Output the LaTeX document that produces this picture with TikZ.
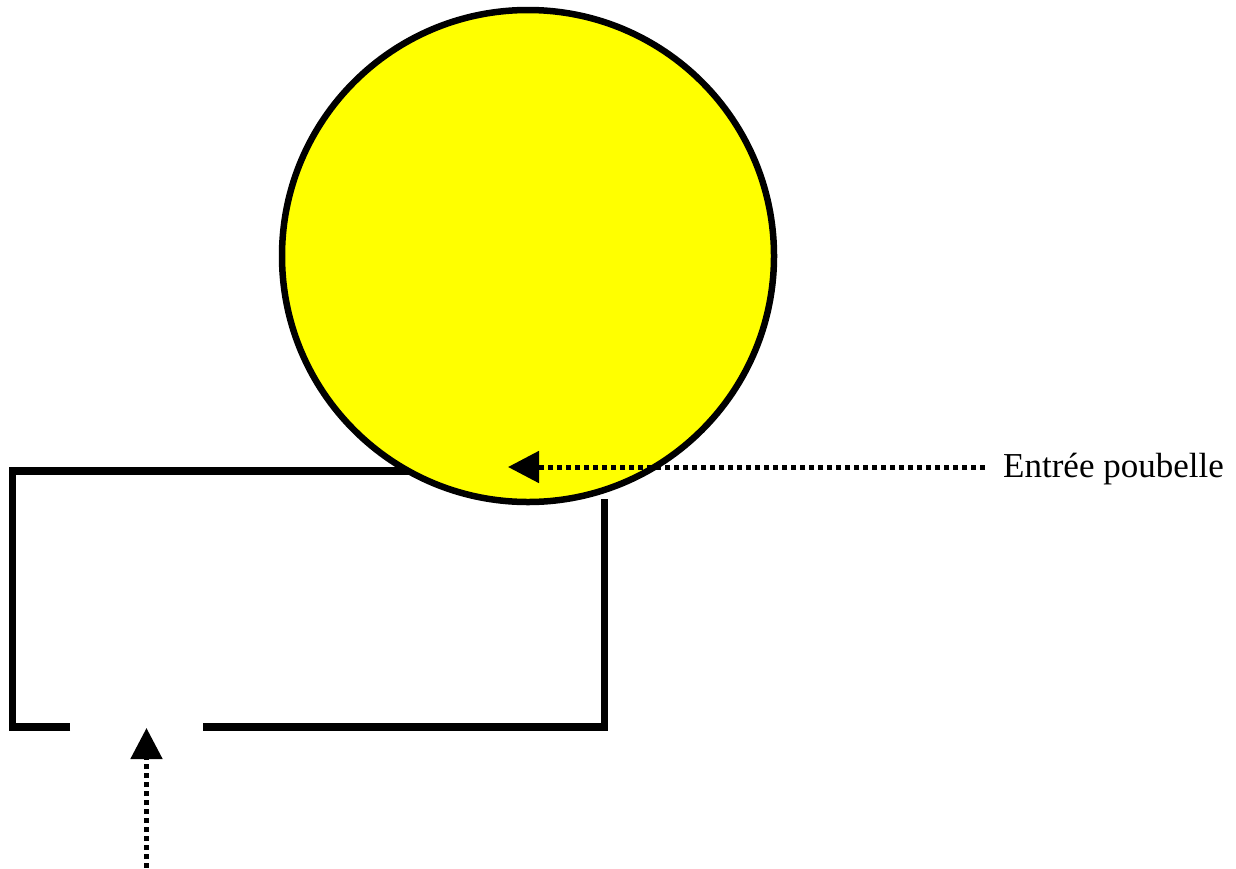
\documentclass[tikz,border=0pt]{standalone}
\usepackage{fontspec}
\setmainfont{Liberation Serif}
\usetikzlibrary{arrows.meta}
\definecolor{binyellow}{RGB}{255,255,0}
\begin{document}
\begin{tikzpicture}[x=1pt,y=-1pt,
  wall/.style={line width=7.5pt, line join=miter},
  ptr/.style={line width=5pt, dash pattern=on 5pt off 4pt, -{Triangle[length=31pt,width=31pt]}},
  lbl/.style={font=\fontsize{35}{40}\selectfont, inner sep=0pt, anchor=base west}
]
\useasboundingbox (0,0) rectangle (1236,868);
% walls of the box
\coordinate (g1) at (70,727);
\coordinate (bl) at (12.5,727);
\coordinate (tl) at (12.5,471);
\coordinate (tr) at (430,471);
\coordinate (g2) at (203,727);
\coordinate (br) at (604.5,727);
\coordinate (rt) at (604.5,499);
\draw[wall] (g1) -- (bl) -- (tl) -- (tr);
\draw[wall] (g2) -- (br) -- (rt);
% bin
\node[circle, draw, fill=binyellow, line width=6.5pt, inner sep=0pt, minimum size=492pt] (bin) at (528,256) {};
% label and arrows
\node[lbl] (lab) at (1003,477) {Entrée poubelle};
\coordinate (a1s) at (985,467);
\coordinate (a1e) at (508,467);
\draw[ptr] (a1s) -- (a1e);
\coordinate (a2s) at (146.5,868);
\coordinate (a2e) at (146.5,728);
\draw[ptr] (a2s) -- (a2e);
\end{tikzpicture}
\end{document}
